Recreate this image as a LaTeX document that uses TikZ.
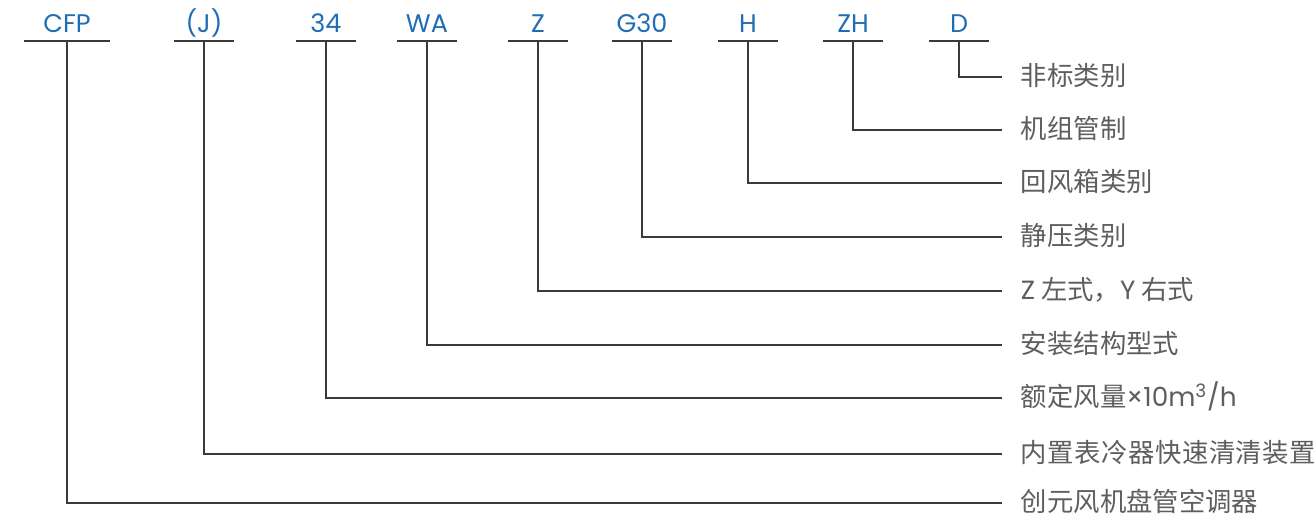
\documentclass[tikz,border=0pt]{standalone}
\usepackage{fontspec}
\setmainfont{Poppins}
\newfontfamily\cjk{Noto Sans CJK SC}
\definecolor{codeblue}{HTML}{1F6DB5}
\definecolor{descgray}{HTML}{5E5E5E}
\definecolor{linegray}{HTML}{3A3A3A}
\begin{document}
\begin{tikzpicture}[x=0.02cm, y=-0.02cm, line width=1.1pt,
  code/.style={text=codeblue, font=\fontsize{14.5}{16}\selectfont, anchor=south, text depth=0pt, inner ysep=0.16cm, inner xsep=0pt, minimum width=1.16cm},
  desc/.style={text=descgray, font=\fontsize{15}{17}\selectfont\cjk, anchor=west, inner xsep=0.36cm, inner ysep=0pt, text height=1.04em, text depth=0.04em},
  link/.style={draw=linegray}]

\useasboundingbox (0,0) rectangle (1316,521);

\node[code, minimum width=1.7cm] (cfp) at (67, 41) {CFP};
\node[code] (j) at (204, 41) {(J)};
\node[code] (flow) at (326, 41) {34};
\node[code] (wa) at (427, 41) {WA};
\node[code] (z) at (538, 41) {Z};
\node[code] (g) at (642, 41) {G30};
\node[code] (h) at (748, 41) {H};
\node[code] (zh) at (853, 41) {ZH};
\node[code] (d) at (959, 41) {D};

\node[desc] (dd) at (1002, 77) {非标类别};
\node[desc] (dzh) at (1002, 130) {机组管制};
\node[desc] (dh) at (1002, 183) {回风箱类别};
\node[desc] (dg) at (1002, 237) {静压类别};
\node[desc] (dz) at (1002, 291) {{\fontspec{Poppins}Z} 左式，{\fontspec{Poppins}Y} 右式};
\node[desc] (dwa) at (1002, 345) {安装结构型式};
\node[desc] (dflow) at (1002, 398) {额定风量{\fontspec{Poppins}×10m\textsuperscript{3}/h}};
\node[desc] (dj) at (1002, 454) {\addfontfeature{LetterSpace=2}内置表冷器快速清清装置};
\node[desc] (dcfp) at (1002, 503) {创元风机盘管空调器};

% bars under the codes
\draw [link] (cfp.south west) -- (cfp.south east);
\draw [link] (j.south west) -- (j.south east);
\draw [link] (flow.south west) -- (flow.south east);
\draw [link] (wa.south west) -- (wa.south east);
\draw [link] (z.south west) -- (z.south east);
\draw [link] (g.south west) -- (g.south east);
\draw [link] (h.south west) -- (h.south east);
\draw [link] (zh.south west) -- (zh.south east);
\draw [link] (d.south west) -- (d.south east);

% leaders
\draw [link] (d.south) |- (dd.west);
\draw [link] (zh.south) |- (dzh.west);
\draw [link] (h.south) |- (dh.west);
\draw [link] (g.south) |- (dg.west);
\draw [link] (z.south) |- (dz.west);
\draw [link] (wa.south) |- (dwa.west);
\draw [link] (flow.south) |- (dflow.west);
\draw [link] (j.south) |- (dj.west);
\draw [link] (cfp.south) |- (dcfp.west);

\end{tikzpicture}
\end{document}
